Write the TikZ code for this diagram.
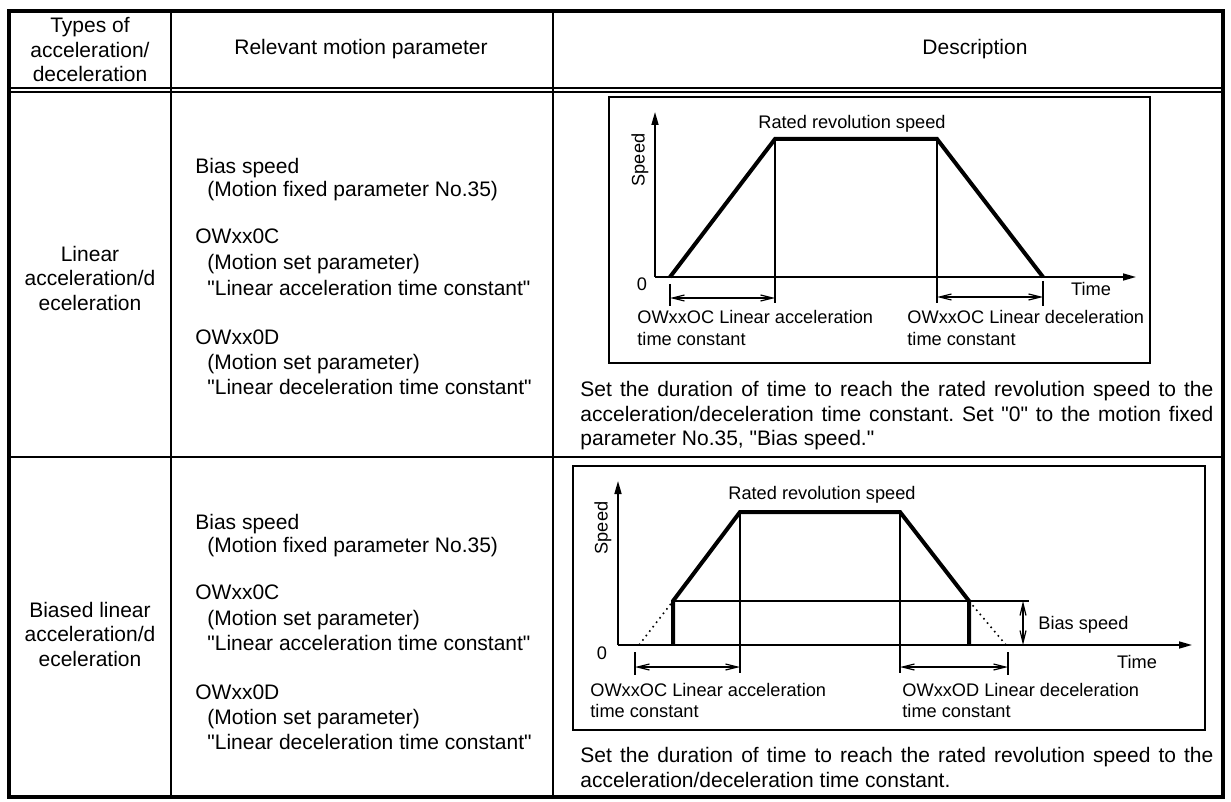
\documentclass[tikz,border=0pt]{standalone}
\usepackage{fontspec}
\setmainfont{Liberation Sans}[Ligatures=TeXOff]
\usetikzlibrary{arrows.meta}
\frenchspacing
\begin{document}
\begin{tikzpicture}[x=0.5pt,y=-0.5pt,
  txt/.style={font=\fontsize{10.5}{12.25}\selectfont, inner sep=0pt},
  ptxt/.style={txt, anchor=base west},
  gtxt/.style={font=\fontsize{9.1}{11}\selectfont, inner sep=0pt},
  gl/.style={gtxt, anchor=base west},
  outer/.style={line width=1.7pt},
  inner/.style={line width=1.2pt},
  thinl/.style={line width=0.7pt},
  prof/.style={line width=2pt, line join=miter},
  axis/.style={line width=0.8pt, -{Triangle[length=6.5pt,width=3.5pt]}},
  dim/.style={line width=0.6pt, {Straight Barb[length=6pt,width=3pt]}-{Straight Barb[length=6pt,width=3pt]}},
  dots/.style={line width=0.8pt, dotted},
  para/.style={txt, anchor=north west, text width=316.5pt, align=justify},
]
\useasboundingbox (0,0) rectangle (1231,802);

% ---------- table frame ----------
\coordinate (TL) at (9,11);
\coordinate (BR) at (1223,797);
\coordinate (c1t) at (171,11);  \coordinate (c1b) at (171,797);
\coordinate (c2t) at (553,11);  \coordinate (c2b) at (553,797);
\coordinate (h1l) at (9,88);    \coordinate (h1r) at (1223,88);
\coordinate (h2l) at (9,92);    \coordinate (h2r) at (1223,92);
\coordinate (rsl) at (9,457);   \coordinate (rsr) at (1223,457);
\draw[outer] (TL) rectangle (BR);
\draw[inner] (c1t) -- (c1b);
\draw[inner] (c2t) -- (c2b);
\draw[thinl] (h1l) -- (h1r);
\draw[thinl] (h2l) -- (h2r);
\draw[inner] (rsl) -- (rsr);

% ---------- header ----------
\node[txt, align=center] (hA) at (90,50) {Types of\\acceleration/\\deceleration};
\node[txt] (hB) at (361,49) {Relevant motion parameter};
\node[txt] (hC) at (975,49) {Description};

% ---------- column 1 ----------
\node[txt, align=center] (tA) at (90,278) {Linear\\acceleration/d\\eceleration};
\node[txt, align=center] (tB) at (90,634) {Biased linear\\acceleration/d\\eceleration};

% ---------- column 2, row 1 ----------
\node[ptxt] (p1a) at (195,174) {Bias speed};
\node[ptxt] (p1b) at (207,197) {(Motion fixed parameter No.35)};
\node[ptxt] (p1c) at (195,244) {OWxx0C};
\node[ptxt] (p1d) at (207,270) {(Motion set parameter)};
\node[ptxt] (p1e) at (207,295) {"Linear acceleration time constant"};
\node[ptxt] (p1f) at (195,344) {OWxx0D};
\node[ptxt] (p1g) at (207,369) {(Motion set parameter)};
\node[ptxt] (p1h) at (207,394) {"Linear deceleration time constant"};

% ---------- column 2, row 2 ----------
\node[ptxt] (p2a) at (195,529) {Bias speed};
\node[ptxt] (p2b) at (207,552) {(Motion fixed parameter No.35)};
\node[ptxt] (p2c) at (195,599) {OWxx0C};
\node[ptxt] (p2d) at (207,625) {(Motion set parameter)};
\node[ptxt] (p2e) at (207,650) {"Linear acceleration time constant"};
\node[ptxt] (p2f) at (195,699) {OWxx0D};
\node[ptxt] (p2g) at (207,724) {(Motion set parameter)};
\node[ptxt] (p2h) at (207,749) {"Linear deceleration time constant"};

% ---------- graph 1 ----------
\coordinate (g1a) at (609,97);
\coordinate (g1b) at (1150,363);
\draw[thinl] (g1a) rectangle (g1b);
\coordinate (o1) at (655,277);
\coordinate (y1) at (655,112);
\coordinate (x1) at (1136,277);
\draw[axis] (o1) -- (y1);
\draw[axis] (o1) -- (x1);
\coordinate (a1) at (670,277);
\coordinate (b1) at (775,139);
\coordinate (c1) at (937,139);
\coordinate (d1) at (1043,277);
\draw[prof] (a1) -- (b1) -- (c1) -- (d1);
\coordinate (b1d) at (775,303);
\coordinate (c1d) at (937,303);
\draw[thinl] (b1) -- (b1d);
\draw[thinl] (c1) -- (c1d);
\coordinate (t1a) at (670,284); \coordinate (t1b) at (670,306);
\coordinate (t2a) at (1043,281); \coordinate (t2b) at (1043,306);
\draw[thinl] (t1a) -- (t1b);
\draw[thinl] (t2a) -- (t2b);
\coordinate (m1a) at (670,298); \coordinate (m1b) at (775,298);
\coordinate (m2a) at (937,297); \coordinate (m2b) at (1043,297);
\draw[dim] (m1a) -- (m1b);
\draw[dim] (m2a) -- (m2b);
\node[gtxt, rotate=90] (s1) at (640,160) {Speed};
\node[gl] (r1) at (758,129) {Rated revolution speed};
\node[gtxt] (z1) at (642,284) {0};
\node[gtxt] (ti1) at (1091,289) {Time};
\node[gl] (la1) at (637,323) {OWxxOC Linear acceleration};
\node[gl] (lb1) at (637,345) {time constant};
\node[gl] (lc1) at (907,323) {OWxxOC Linear deceleration};
\node[gl] (ld1) at (907,345) {time constant};

\node[para] (d1t) at (580,381) {Set the duration of time to reach the rated revolution speed to the acceleration/deceleration time constant. Set "0" to the motion fixed parameter No.35, "Bias speed."};

% ---------- graph 2 ----------
\coordinate (g2a) at (573,466);
\coordinate (g2b) at (1205,730);
\draw[thinl] (g2a) rectangle (g2b);
\coordinate (o2) at (618,645);
\coordinate (y2) at (618,481);
\coordinate (x2) at (1192,645);
\draw[axis] (o2) -- (y2);
\draw[axis] (o2) -- (x2);
\coordinate (a2) at (673,645);
\coordinate (a2u) at (673,601);
\coordinate (b2) at (740,512);
\coordinate (c2) at (900,512);
\coordinate (d2u) at (969,601);
\coordinate (d2) at (969,645);
\draw[prof] (a2) -- (a2u) -- (b2) -- (c2) -- (d2u) -- (d2);
\coordinate (bsr) at (1029,601);
\draw[thinl] (a2u) -- (bsr);
\coordinate (e2l) at (639,645);
\coordinate (e2r) at (1006,645);
\draw[dots] (e2l) -- (a2u);
\draw[dots] (d2u) -- (e2r);
\coordinate (b2d) at (740,673);
\coordinate (c2d) at (900,673);
\draw[thinl] (b2) -- (b2d);
\draw[thinl] (c2) -- (c2d);
\coordinate (t3a) at (635,652); \coordinate (t3b) at (635,675);
\coordinate (t4a) at (1008,652); \coordinate (t4b) at (1008,675);
\draw[thinl] (t3a) -- (t3b);
\draw[thinl] (t4a) -- (t4b);
\coordinate (m3a) at (635,667); \coordinate (m3b) at (740,667);
\coordinate (m4a) at (900,667); \coordinate (m4b) at (1008,667);
\draw[dim] (m3a) -- (m3b);
\draw[dim] (m4a) -- (m4b);
\coordinate (bva) at (1023,601); \coordinate (bvb) at (1023,645);
\draw[dim] (bva) -- (bvb);
\node[gtxt, rotate=90] (s2) at (603,528) {Speed};
\node[gl] (r2) at (728,499) {Rated revolution speed};
\node[gtxt] (z2) at (602,653) {0};
\node[gtxt] (ti2) at (1137,662) {Time};
\node[gl] (bs2) at (1038,629) {Bias speed};
\node[gl] (la2) at (590,696) {OWxxOC Linear acceleration};
\node[gl] (lb2) at (590,717) {time constant};
\node[gl] (lc2) at (902,696) {OWxxOD Linear deceleration};
\node[gl] (ld2) at (902,717) {time constant};

\node[para] (d2t) at (580,747) {Set the duration of time to reach the rated revolution speed to the acceleration/deceleration time constant.};
\end{tikzpicture}
\end{document}
